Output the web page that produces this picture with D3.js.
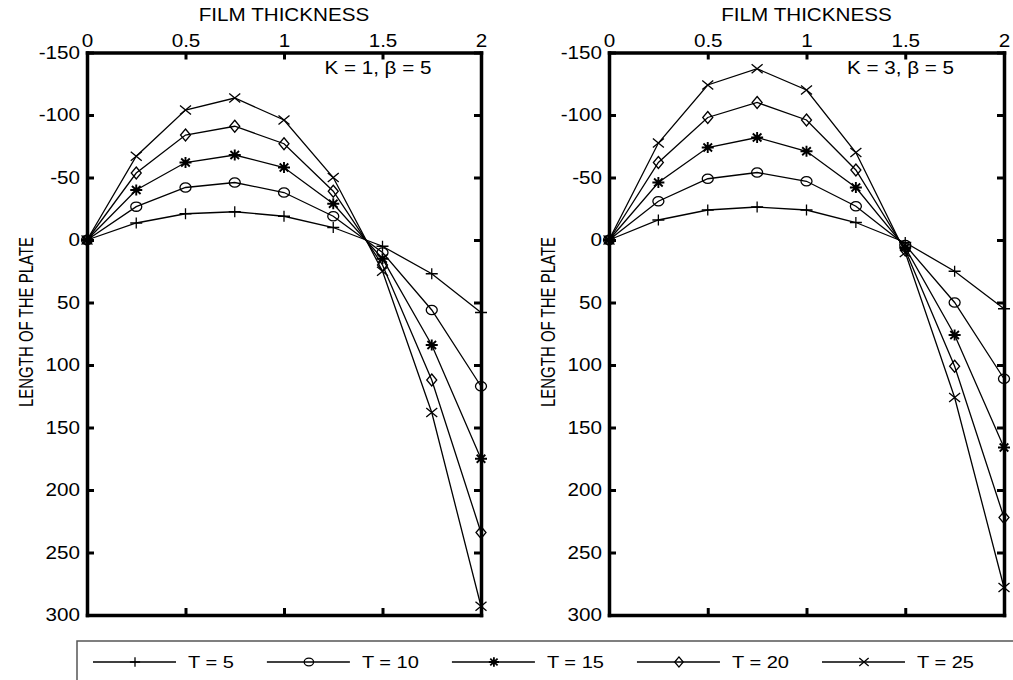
<!DOCTYPE html>
<html>
<head>
<meta charset="utf-8">
<script src="https://cdn.jsdelivr.net/npm/d3@7"></script>
<style>
  body { margin: 0; background: #fff; }
  svg { display: block; }
  text { font-family: "Liberation Sans", Arial, sans-serif; fill: #000; }
</style>
</head>
<body>
<script>
'use strict';

// film thickness positions
const thickness = [0, 0.25, 0.5, 0.75, 1, 1.25, 1.5, 1.75, 2];
const xTicks = [0, 0.5, 1, 1.5, 2];
const yTicks = [-150, -100, -50, 0, 50, 100, 150, 200, 250, 300];
const seriesNames = ['T = 5', 'T = 10', 'T = 15', 'T = 20', 'T = 25'];
const markerKinds = ['plus', 'circle', 'star', 'diamond', 'cross'];

// K = 1, beta = 5
const k1T5 = [0, -13.6, -21, -22.6, -19, -10, 5, 27, 58];
const k1T10 = [0, -26.7, -42, -46, -38, -19, 10, 56, 117];
const k1T15 = [0, -40, -62, -68, -58, -29, 15, 84, 175];
const k1T20 = [0, -53.6, -84, -91, -77, -39, 20, 112, 234];
const k1T25 = [0, -67, -104, -113.6, -96, -50, 25, 138, 293];

// K = 3, beta = 5
const k3T5 = [0, -16, -24, -26.4, -24, -14, 2, 25, 55];
const k3T10 = [0, -31, -49, -54, -47, -27, 4, 50, 111];
const k3T15 = [0, -46, -74, -82, -71, -42, 6, 76, 166];
const k3T20 = [0, -62, -98, -110, -96, -56, 8, 101, 222];
const k3T25 = [0, -77.6, -124, -137, -120, -70, 10, 126, 278];

const SX = 1.18; // the picture is a bit wider than tall, stretch text the same way

let svg = d3.select('body').append('svg')
  .attr('width', 1013)
  .attr('height', 680);

// marker shapes, centred at 0,0
function markerPath(kind, s) {
  let w = 6 * s, h = 5.5 * s;
  if (kind == 'plus') return `M${-w},0H${w}M0,${-h}V${h}`;
  if (kind == 'circle') {
    let rx = 5.5 * s, ry = 4.6 * s;
    return `M${-rx},0A${rx},${ry} 0 1 0 ${rx},0A${rx},${ry} 0 1 0 ${-rx},0Z`;
  }
  if (kind == 'star') {
    let a = w * 0.72, b = h * 0.72;
    return `M${-w},0H${w}M0,${-h}V${h}M${-a},${-b}L${a},${b}M${-a},${b}L${a},${-b}`;
  }
  if (kind == 'diamond') {
    let dw = 5 * s, dh = 6 * s;
    return `M0,${-dh}L${dw},0L0,${dh}L${-dw},0Z`;
  }
  let cw = 5.5 * s, ch = 4.6 * s;
  return `M${-cw},${-ch}L${cw},${ch}M${-cw},${ch}L${cw},${-ch}`;
}

function stretchText(sel, xOff) {
  sel.attr('transform', `scale(${SX},1)`)
    .attr('x', xOff / SX)
    .style('font-size', '17.5px')
    .style('font-family', '"Liberation Sans", Arial, sans-serif');
}

// plain hyphen for negatives, like the original
let plain = d => String(d);

function drawPanel(rangeX, series, note) {
  let x = d3.scaleLinear().domain([0, 2]).range(rangeX);
  let y = d3.scaleLinear().domain([-150, 300]).range([52.5, 615]);
  let g = svg.append('g');

  // lines
  let line = d3.line()
    .x((d, i) => x(thickness[i]))
    .y(d => y(d));

  series.forEach((vals, si) => {
    g.append('path')
      .datum(vals)
      .attr('fill', 'none')
      .attr('stroke', '#000')
      .attr('stroke-width', 1.3)
      .attr('d', line);

    g.selectAll('.m' + si)
      .data(vals)
      .enter()
      .append('path')
        .attr('transform', (d, i) => `translate(${x(thickness[i])},${y(d)})`)
        .attr('d', markerPath(markerKinds[si], 1))
        .attr('fill', 'none')
        .attr('stroke', '#000')
        .attr('stroke-width', markerKinds[si] == 'star' ? 1.9 : 1.3);
  });

  // four sides of the box with inward ticks
  let top = g.append('g')
    .attr('transform', `translate(0,${y(-150)})`)
    .call(d3.axisTop(x).tickValues(xTicks).tickSize(-7).tickSizeOuter(0).tickPadding(6).tickFormat(plain));
  let bottom = g.append('g')
    .attr('transform', `translate(0,${y(300)})`)
    .call(d3.axisBottom(x).tickValues(xTicks).tickSize(-7).tickSizeOuter(0).tickFormat(''));
  let left = g.append('g')
    .attr('transform', `translate(${rangeX[0]},0)`)
    .call(d3.axisLeft(y).tickValues(yTicks).tickSize(-7).tickSizeOuter(0).tickPadding(7).tickFormat(plain));
  let right = g.append('g')
    .attr('transform', `translate(${rangeX[1]},0)`)
    .call(d3.axisRight(y).tickValues(yTicks).tickSize(-7).tickSizeOuter(0).tickFormat(''));

  [top, bottom, left, right].forEach(a => {
    a.select('.domain').attr('stroke-width', 3.5).attr('stroke-linecap', 'square');
    a.selectAll('.tick line').attr('stroke-width', 3);
  });
  stretchText(top.selectAll('text'), 0);
  stretchText(left.selectAll('text'), -7);

  // titles
  let cx = (rangeX[0] + rangeX[1]) / 2;
  g.append('text')
    .attr('transform', `translate(${cx},21) scale(${SX},1)`)
    .attr('text-anchor', 'middle')
    .style('font-size', '17.5px')
    .text('FILM THICKNESS');

  g.append('text')
    .attr('transform', `translate(${rangeX[0] - 61},322) scale(1.3,1) rotate(-90)`)
    .attr('text-anchor', 'middle')
    .attr('dy', '0.36em')
    .style('font-size', '15px')
    .text('LENGTH OF THE PLATE');

  g.append('text')
    .attr('transform', `translate(${x(1.205)},74) scale(${SX},1)`)
    .style('font-size', '17.5px')
    .text(note);
}

drawPanel([87, 481], [k1T5, k1T10, k1T15, k1T20, k1T25], 'K = 1, \u03b2 = 5');
drawPanel([609, 1004], [k3T5, k3T10, k3T15, k3T20, k3T25], 'K = 3, \u03b2 = 5');

// legend along the bottom
let legend = svg.append('g');
legend.append('rect')
  .attr('x', 77)
  .attr('y', 641)
  .attr('width', 1000)
  .attr('height', 100)
  .attr('fill', '#fff')
  .attr('stroke', '#555')
  .attr('stroke-width', 1.5);

let lx = 93;
seriesNames.forEach((name, i) => {
  let ly = 662;
  legend.append('line')
    .attr('x1', lx).attr('x2', lx + 83)
    .attr('y1', ly).attr('y2', ly)
    .attr('stroke', '#000')
    .attr('stroke-width', 1.3);
  legend.append('path')
    .attr('transform', `translate(${lx + 42},${ly})`)
    .attr('d', markerPath(markerKinds[i], 0.85))
    .attr('fill', 'none')
    .attr('stroke', '#000')
    .attr('stroke-width', markerKinds[i] == 'star' ? 1.8 : 1.3);
  let t = legend.append('text')
    .attr('transform', `translate(${lx + 95},${ly + 6}) scale(${SX},1)`)
    .style('font-size', '17px')
    .text(name);
  let w = t.node().getComputedTextLength() * SX;
  lx = lx + 95 + w + 33;
});
</script>
</body>
</html>
